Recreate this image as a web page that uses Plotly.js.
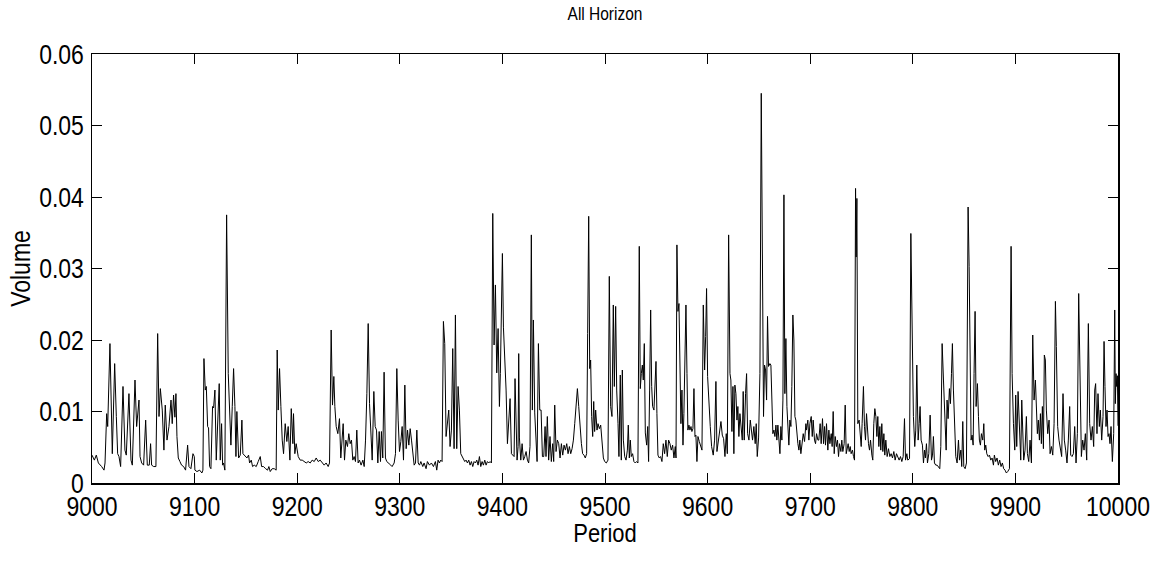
<!DOCTYPE html>
<html><head><meta charset="utf-8">
<script src="https://cdn.plot.ly/plotly-3.0.1.min.js"></script>
<style>html,body{margin:0;padding:0;background:#fff}#chart{width:1158px;height:561px}</style>
</head><body><div id="chart"></div>
<script>
const periods = [
9000,9002.3,9004.2,9006.2,9009.4,9011.7,9012.7,9014.3,9015.3,9017.5,9019.8,9022.1,9023.7,9025.0,9026.3,9027.9,9030.2,9032.1,9033.4,9036.0,
9038.0,9039.3,9041.9,9043.5,9045.8,9046.8,9048.4,9050.3,9052.3,9053.9,9055.8,9057.1,9058.1,9060.1,9062.3,9064.0,9065.3,9066.6,9068.5,9070.1,
9071.4,9073.1,9075.0,9077.0,9078.2,9079.5,9080.8,9081.8,9082.8,9084.1,9085.7,9087.3,9089.3,9091.2,9093.2,9094.5,9096.4,9098.4,9099.7,
9100.3,9102.3,9104.9,9107.1,9108.1,9109.1,9110.4,9111.4,9112.7,9113.6,9114.6,9115.9,9117.5,9118.5,9119.8,9121.1,9122.4,9124.0,9125.0,9126.3,
9127.3,9128.2,9129.5,9131.2,9132.8,9134.1,9135.4,9136.7,9138.0,9139.3,9140.3,9141.2,9142.9,9144.5,9146.1,9147.1,9148.7,9151.0,9152.6,9153.6,
9155.2,9156.5,9158.1,9160.1,9162.0,9164.0,9165.3,9167.2,9169.2,9171.1,9172.4,9173.7,9175.6,9177.6,9179.5,9180.5,9181.5,9182.8,9184.1,9185.4,
9186.7,9188.3,9189.9,9191.2,9192.9,9194.2,9195.8,9196.4,9197.7,9199.0,
9201.0,9202.9,9204.9,9206.8,9208.8,9210.7,9212.7,9214.6,9216.6,9218.5,9220.5,9222.4,9224.4,9226.3,9228.2,9230.2,9231.5,9233.1,9234.4,9235.7,
9236.7,9238.0,9239.6,9241.2,9242.5,9243.8,9244.8,9246.1,9247.4,9249.0,9250.3,9251.6,9252.9,9254.2,9255.5,9256.8,9258.1,9259.4,9260.7,9262.3,
9264.0,9265.3,9266.6,9267.9,9269.2,9270.5,9271.8,9273.1,9274.7,9276.0,9277.3,9278.6,9279.9,9281.2,9282.1,9283.4,9284.7,9286.0,9287.3,9289.3,
9291.2,9292.5,9294.5,9295.8,9297.1,9298.4,
9299.7,9301.0,9302.3,9303.6,9304.9,9306.2,9307.5,9308.8,9310.1,9311.4,9312.7,9314.0,9315.3,9316.6,9317.9,9319.2,9320.5,9322.4,9323.7,9325.6,
9326.9,9328.9,9330.8,9332.8,9334.7,9336.0,9337.3,9338.6,9339.9,9341.2,9342.5,9343.8,9345.1,9346.4,9347.7,9349.0,9350.3,9351.6,9352.9,9354.2,
9355.5,9356.8,9358.1,9359.4,9360.7,9362.0,9363.3,9364.6,9365.9,9367.2,9368.5,9369.8,9371.1,9372.4,9373.7,9375.0,9376.3,9377.6,9378.9,9380.2,
9381.5,9382.8,9384.1,9385.4,9386.7,9388.0,9389.3,9390.6,9391.9,9393.2,9394.5,9395.8,9397.1,9398.0,
9400.0,9401.0,9402.3,9403.6,9404.9,9406.2,9407.5,9408.8,9410.1,9411.4,9412.3,9413.3,9414.3,9415.3,9415.9,9416.6,9417.9,9419.2,9420.5,9421.8,
9423.1,9424.4,9425.6,9426.9,9428.2,9429.2,9430.2,9431.5,9432.8,9433.8,9435.1,9436.4,9437.7,9439.0,9440.3,9441.6,9442.5,9443.8,9445.1,9446.4,
9447.7,9449.0,9450.0,9451.0,9452.3,9453.6,9454.9,9456.2,9457.5,9458.8,9460.1,9461.4,9462.7,9464.0,9465.3,9466.6,9467.9,9469.2,9470.5,9471.8,
9473.1,9474.4,9475.6,9477.0,9478.2,9479.5,9480.8,9482.1,9483.1,9484.1,9485.1,9486.0,9487.0,9488.0,9489.0,9489.9,9490.9,9492.2,9493.2,9494.5,
9495.8,9497.1,
9498.4,9499.7,9501.3,9502.9,9504.2,9505.5,9506.8,9508.1,9509.1,9510.4,9511.4,9512.7,9513.6,9514.9,9515.9,9516.9,9517.9,9519.2,9520.5,9521.8,
9522.7,9523.7,9524.7,9525.6,9526.9,9528.2,9529.5,9530.8,9532.1,9533.4,9534.4,9535.4,9536.4,9537.3,9538.3,9539.3,9540.6,9541.6,9542.5,9543.5,
9544.5,9545.5,9546.4,9547.7,9548.7,9549.7,9550.6,9551.6,9552.9,9554.2,9555.5,9556.8,9558.1,9559.4,9560.7,9562.0,9563.3,9564.6,9565.9,9567.2,
9568.5,9569.2,9570.1,9571.1,9572.1,9573.1,9574.0,9575.0,9576.0,9576.9,9577.9,9578.9,9579.9,9580.8,9581.8,9582.8,9583.8,9584.7,9585.7,9586.7,
9587.7,9588.6,9589.6,9590.6,9591.9,9593.2,9594.5,9595.8,
9597.1,9598.1,9599.0,9600.0,9601.3,9602.6,9603.9,9605.5,9606.8,9608.1,9609.1,9610.4,9611.7,9613.0,9614.3,9615.6,9616.9,9618.2,9619.2,9620.5,
9621.8,9622.7,9623.7,9624.7,9625.6,9626.6,9627.6,9628.6,9629.5,9630.5,9631.5,9632.5,9633.8,9634.7,9635.7,9637.0,9638.0,9639.0,9640.3,9641.6,
9642.9,9643.8,9645.1,9646.4,9647.4,9648.4,9649.7,9651.0,9652.3,9653.2,9654.5,9655.5,9656.5,9657.5,9658.4,9659.4,9660.7,9661.7,9662.7,9663.6,
9664.6,9665.6,9666.6,9667.5,9668.5,9669.5,9670.5,9671.4,9672.4,9673.4,9674.4,9675.3,9676.3,9677.3,9678.2,9679.2,9680.2,9681.2,9682.1,9683.1,
9684.1,9685.1,9686.0,9687.0,9688.0,9689.0,9689.9,9690.9,9691.9,9693.2,9694.5,9695.8,
9696.4,9697.7,9698.7,9699.7,9701.0,9702.0,9702.9,9704.2,9705.2,9706.2,9707.5,9708.4,9709.7,9710.7,9712.0,9713.0,9714.0,9714.9,9715.9,9717.2,
9718.2,9719.2,9720.5,9721.4,9722.4,9723.4,9724.4,9725.6,9726.6,9727.6,9728.6,9729.9,9730.8,9731.8,9733.1,9734.1,9735.1,9736.0,9737.0,9738.0,
9739.0,9739.9,9741.2,9742.2,9743.2,9744.2,9744.8,9745.5,9746.4,9747.7,9748.7,9749.7,9750.6,9751.9,9752.9,9753.9,9754.9,9755.8,9756.8,9757.8,
9758.8,9760.1,9761.0,9762.0,9763.0,9764.0,9765.0,9765.9,9766.9,9767.9,9768.8,9769.8,9770.8,9771.8,9772.7,9773.7,9775.0,9776.3,9777.6,9778.9,
9780.2,9781.5,9782.8,9784.1,9785.4,9786.7,9788.0,9789.3,9790.6,9791.9,9792.9,9794.2,9795.1,
9796.8,9798.1,9799.4,9800.6,9801.9,9802.9,9803.9,9805.2,9806.2,9807.1,9808.1,9809.4,9810.4,9811.4,9812.3,9813.3,9814.3,9815.6,9816.9,9818.2,
9819.2,9820.1,9821.1,9822.4,9823.7,9825.0,9826.3,9827.3,9828.6,9829.9,9831.2,9832.5,9833.4,9834.4,9835.7,9836.7,9837.7,9838.6,9839.6,9840.6,
9841.9,9843.2,9844.5,9845.5,9846.8,9847.7,9848.7,9849.7,9851.0,9852.3,9852.9,9853.9,9854.9,9855.8,9856.8,9857.8,9858.8,9859.7,9860.7,9861.7,
9863.0,9864.0,9864.9,9865.9,9866.9,9868.2,9869.2,9870.1,9871.1,9872.1,9873.4,9874.7,9876.0,9877.3,9878.6,9879.5,9880.8,9882.1,9883.4,9884.7,
9886.0,9887.3,9888.6,9889.9,9891.2,9892.5,9894.2,
9895.8,9896.8,9898.1,9899.4,9900.3,9901.3,9902.6,9903.9,9905.2,9906.2,9907.1,9908.1,9909.4,9910.7,9911.7,9913.0,9914.3,9915.6,9916.9,9918.2,
9919.5,9920.5,9921.4,9922.4,9923.4,9924.4,9925.3,9926.3,9927.3,9928.2,9929.2,9930.2,9931.5,9932.8,9933.8,9935.1,9936.4,9937.7,9939.0,9939.9,
9941.2,9942.5,9943.8,9945.1,9946.4,9947.7,9949.0,9950.3,9951.6,9952.9,9953.9,9955.2,9956.5,9957.8,9959.1,9960.4,9961.7,9963.0,9964.3,9965.6,
9966.9,9968.2,9969.5,9971.1,9972.4,9973.7,9975.0,9976.3,9977.3,9978.2,9979.5,9980.5,9981.8,9982.8,9984.1,9985.4,9986.4,9987.3,9988.3,9989.3,
9990.3,9991.2,9992.2,9993.2,9994.5,9995.8,9996.8,9997.4,9998.1,9998.7,9999.4,10000
];
const volume = [
0.0039,0.0032,0.0039,0.0028,0.0023,0.0018,0.0028,0.0097,0.0079,0.0195,0.0041,0.0167,0.0093,0.0041,0.0037,0.0023,0.0135,0.0046,0.0039,0.0125,
0.0032,0.0025,0.0144,0.0079,0.0116,0.0037,0.0028,0.0025,0.0088,0.0025,0.0025,0.0055,0.0025,0.0023,0.0023,0.0209,0.0093,0.0132,0.0102,0.0046,
0.0109,0.0060,0.0079,0.0116,0.0083,0.0123,0.0092,0.0125,0.0065,0.0035,0.0030,0.0025,0.0023,0.0018,0.0053,0.0023,0.0020,0.0041,0.0037,
0.0018,0.0016,0.0018,0.0014,0.0018,0.0174,0.0130,0.0135,0.0079,0.0077,0.0023,0.0020,0.0107,0.0105,0.0130,0.0032,0.0083,0.0139,0.0032,0.0083,
0.0025,0.0028,0.0018,0.0375,0.0153,0.0093,0.0053,0.0107,0.0160,0.0107,0.0037,0.0100,0.0035,0.0039,0.0088,0.0041,0.0039,0.0035,0.0039,0.0028,
0.0032,0.0023,0.0025,0.0023,0.0030,0.0037,0.0023,0.0023,0.0020,0.0018,0.0023,0.0016,0.0020,0.0020,0.0018,0.0186,0.0102,0.0160,0.0107,0.0060,
0.0041,0.0083,0.0058,0.0079,0.0032,0.0104,0.0055,0.0097,0.0041,0.0055,
0.0037,0.0032,0.0032,0.0030,0.0028,0.0030,0.0028,0.0032,0.0030,0.0035,0.0030,0.0032,0.0028,0.0025,0.0028,0.0023,0.0028,0.0214,0.0109,0.0149,
0.0107,0.0079,0.0069,0.0090,0.0035,0.0065,0.0083,0.0032,0.0060,0.0051,0.0069,0.0055,0.0060,0.0032,0.0037,0.0030,0.0074,0.0028,0.0032,0.0025,
0.0032,0.0023,0.0060,0.0125,0.0223,0.0111,0.0069,0.0032,0.0128,0.0079,0.0074,0.0028,0.0072,0.0030,0.0072,0.0035,0.0155,0.0035,0.0030,0.0028,
0.0025,0.0023,0.0028,0.0041,0.0160,0.0088,
0.0044,0.0058,0.0079,0.0032,0.0137,0.0048,0.0074,0.0053,0.0076,0.0060,0.0041,0.0025,0.0028,0.0074,0.0028,0.0025,0.0030,0.0023,0.0028,0.0020,
0.0030,0.0025,0.0028,0.0023,0.0030,0.0018,0.0032,0.0028,0.0032,0.0030,0.0226,0.0195,0.0065,0.0083,0.0102,0.0051,0.0074,0.0188,0.0048,0.0235,
0.0048,0.0135,0.0102,0.0041,0.0037,0.0035,0.0030,0.0032,0.0028,0.0032,0.0025,0.0030,0.0023,0.0030,0.0028,0.0032,0.0025,0.0037,0.0023,0.0030,
0.0025,0.0032,0.0025,0.0030,0.0028,0.0030,0.0028,0.0377,0.0193,0.0277,0.0154,0.0216,0.0107,0.0153,
0.0321,0.0218,0.0172,0.0130,0.0055,0.0093,0.0118,0.0041,0.0039,0.0037,0.0146,0.0079,0.0032,0.0051,0.0181,0.0063,0.0032,0.0055,0.0032,0.0037,
0.0044,0.0032,0.0028,0.0051,0.0347,0.0102,0.0228,0.0098,0.0060,0.0030,0.0195,0.0102,0.0102,0.0037,0.0037,0.0079,0.0037,0.0093,0.0032,0.0065,
0.0030,0.0055,0.0030,0.0109,0.0044,0.0060,0.0055,0.0035,0.0055,0.0039,0.0053,0.0046,0.0055,0.0041,0.0051,0.0041,0.0048,0.0060,0.0083,0.0107,
0.0132,0.0107,0.0079,0.0055,0.0041,0.0039,0.0035,0.0041,0.0209,0.0373,0.0160,0.0172,0.0093,0.0065,0.0114,0.0072,0.0102,0.0074,0.0083,0.0076,
0.0081,0.0060,
0.0035,0.0030,0.0028,0.0032,0.0289,0.0107,0.0093,0.0249,0.0135,0.0247,0.0130,0.0083,0.0037,0.0151,0.0032,0.0158,0.0060,0.0037,0.0032,0.0046,
0.0081,0.0035,0.0060,0.0037,0.0041,0.0030,0.0028,0.0030,0.0028,0.0331,0.0132,0.0153,0.0165,0.0144,0.0195,0.0070,0.0053,0.0079,0.0030,0.0130,
0.0242,0.0135,0.0107,0.0102,0.0153,0.0170,0.0097,0.0039,0.0035,0.0037,0.0030,0.0055,0.0041,0.0060,0.0037,0.0060,0.0055,0.0046,0.0053,0.0035,
0.0051,0.0035,0.0333,0.0240,0.0251,0.0130,0.0083,0.0130,0.0053,0.0097,0.0153,0.0249,0.0153,0.0074,0.0081,0.0074,0.0079,0.0072,0.0076,0.0132,
0.0065,0.0067,0.0030,0.0065,0.0058,0.0053,0.0046,0.0249,
0.0158,0.0205,0.0272,0.0149,0.0107,0.0079,0.0051,0.0039,0.0060,0.0142,0.0044,0.0060,0.0070,0.0086,0.0067,0.0062,0.0037,0.0069,0.0041,0.0347,
0.0153,0.0144,0.0072,0.0135,0.0041,0.0137,0.0125,0.0088,0.0107,0.0065,0.0097,0.0083,0.0060,0.0128,0.0060,0.0125,0.0153,0.0069,0.0060,0.0088,
0.0069,0.0060,0.0079,0.0055,0.0083,0.0037,0.0063,0.0153,0.0545,0.0293,0.0093,0.0165,0.0158,0.0116,0.0233,0.0163,0.0167,0.0165,0.0118,0.0069,
0.0074,0.0065,0.0081,0.0060,0.0081,0.0065,0.0041,0.0079,0.0060,0.0116,0.0403,0.0125,0.0202,0.0107,0.0083,0.0053,0.0088,0.0079,0.0135,0.0235,
0.0200,0.0093,0.0088,0.0069,0.0055,0.0046,0.0060,0.0041,0.0055,0.0069,0.0058,0.0083,
0.0074,0.0088,0.0060,0.0083,0.0093,0.0065,0.0088,0.0060,0.0055,0.0069,0.0060,0.0060,0.0083,0.0055,0.0090,0.0055,0.0079,0.0053,0.0083,0.0046,
0.0074,0.0055,0.0069,0.0051,0.0100,0.0041,0.0065,0.0051,0.0060,0.0037,0.0055,0.0044,0.0060,0.0044,0.0055,0.0109,0.0041,0.0051,0.0055,0.0044,
0.0051,0.0041,0.0046,0.0037,0.0032,0.0412,0.0316,0.0398,0.0083,0.0088,0.0074,0.0051,0.0083,0.0135,0.0079,0.0060,0.0097,0.0072,0.0055,0.0046,
0.0060,0.0039,0.0032,0.0083,0.0104,0.0093,0.0065,0.0093,0.0051,0.0079,0.0046,0.0083,0.0044,0.0069,0.0039,0.0060,0.0037,0.0048,0.0037,0.0041,
0.0035,0.0044,0.0032,0.0041,0.0035,0.0032,0.0037,0.0030,0.0037,0.0090,0.0032,0.0041,0.0032,
0.0034,0.0349,0.0200,0.0093,0.0051,0.0074,0.0165,0.0060,0.0083,0.0107,0.0060,0.0053,0.0028,0.0046,0.0035,0.0055,0.0028,0.0041,0.0095,0.0032,
0.0039,0.0065,0.0028,0.0025,0.0025,0.0023,0.0020,0.0051,0.0195,0.0144,0.0088,0.0046,0.0116,0.0090,0.0132,0.0111,0.0153,0.0195,0.0130,0.0076,
0.0037,0.0028,0.0060,0.0032,0.0046,0.0023,0.0086,0.0023,0.0020,0.0028,0.0219,0.0386,0.0303,0.0200,0.0060,0.0067,0.0053,0.0153,0.0240,0.0107,
0.0139,0.0093,0.0060,0.0053,0.0069,0.0060,0.0083,0.0046,0.0053,0.0041,0.0037,0.0039,0.0032,0.0035,0.0025,0.0039,0.0030,0.0035,0.0025,0.0032,
0.0023,0.0028,0.0020,0.0018,0.0014,0.0016,0.0020,
0.0331,0.0153,0.0083,0.0046,0.0123,0.0051,0.0128,0.0074,0.0032,0.0116,0.0079,0.0032,0.0046,0.0093,0.0041,0.0030,0.0060,0.0028,0.0207,0.0116,
0.0144,0.0083,0.0069,0.0088,0.0060,0.0097,0.0055,0.0107,0.0048,0.0179,0.0172,0.0102,0.0069,0.0088,0.0041,0.0051,0.0039,0.0083,0.0254,0.0191,
0.0079,0.0060,0.0051,0.0037,0.0125,0.0060,0.0046,0.0028,0.0060,0.0107,0.0039,0.0037,0.0041,0.0079,0.0028,0.0069,0.0265,0.0107,0.0037,0.0060,
0.0046,0.0069,0.0032,0.0223,0.0083,0.0060,0.0079,0.0051,0.0130,0.0139,0.0069,0.0125,0.0079,0.0102,0.0060,0.0093,0.0198,0.0135,0.0079,0.0102,
0.0065,0.0069,0.0055,0.0079,0.0030,0.0069,0.0242,0.0111,0.0153,0.0135,0.0150,0.0080
];
const xTickVals = [9000,9100,9200,9300,9400,9500,9600,9700,9800,9900,10000];
const xTickText = ['9000','9100','9200','9300','9400','9500','9600','9700','9800','9900','10000'];
const yTickVals = [0,0.01,0.02,0.03,0.04,0.05,0.06];
const yTickText = ['0','0.01','0.02','0.03','0.04','0.05','0.06'];
const chartTitle = 'All Horizon';
const xLabel = 'Period';
const yLabel = 'Volume';

const FONT = '"Liberation Sans", Arial, Helvetica, sans-serif';

const trace = {
  x: periods, y: volume, type: 'scatter', mode: 'lines',
  line: {color: '#000000', width: 1}, hoverinfo: 'skip'
};
const axisCommon = {
  showline: true, linecolor: '#000', linewidth: 1.5, mirror: 'ticks',
  ticks: 'inside', ticklen: 10, tickwidth: 1, tickcolor: '#000',
  showgrid: false, zeroline: false, fixedrange: true,
  tickfont: {family: FONT, size: 23, color: '#000'}
};
const layout = {
  width: 1158, height: 561,
  margin: {l: 92, r: 40, t: 54, b: 78, autoexpand: false},
  paper_bgcolor: '#fff', plot_bgcolor: '#fff',
  showlegend: false,
  title: {text: chartTitle, font: {family: FONT, size: 15.5, color: '#000'},
          x: 0.5, xref: 'paper', xanchor: 'center', y: 1 - 13/561, yref: 'container', yanchor: 'middle'},
  xaxis: Object.assign({}, axisCommon, {
    range: [9000, 10000], tickvals: xTickVals, ticktext: xTickText,
    ticklabelstandoff: 2,
    title: {text: xLabel, font: {family: FONT, size: 22, color: '#000'}, standoff: 7}
  }),
  yaxis: Object.assign({}, axisCommon, {
    range: [0, 0.06], tickvals: yTickVals, ticktext: yTickText,
    ticklabelstandoff: 2,
    title: {text: yLabel, font: {family: FONT, size: 23, color: '#000'}, standoff: 3}
  })
};

// glyphs in the reference are drawn taller than wide: stretch text vertically about its own centre
function stretchText(gd, selector, k) {
  gd.querySelectorAll(selector).forEach(function (t) {
    const b = t.getBBox();
    const cx = b.x + b.width / 2, cy = b.y + b.height / 2;
    const prev = t.getAttribute('transform') || '';
    t.setAttribute('transform', prev + ' translate(' + cx + ',' + cy + ') scale(1,' + k + ') translate(' + (-cx) + ',' + (-cy) + ')');
  });
}

Plotly.newPlot('chart', [trace], layout, {staticPlot: true, displayModeBar: false}).then(function (gd) {
  stretchText(gd, '.xtick text, .ytick text, .xtitle, .ytitle, .gtitle', 1.2);
});
</script>
</body></html>
